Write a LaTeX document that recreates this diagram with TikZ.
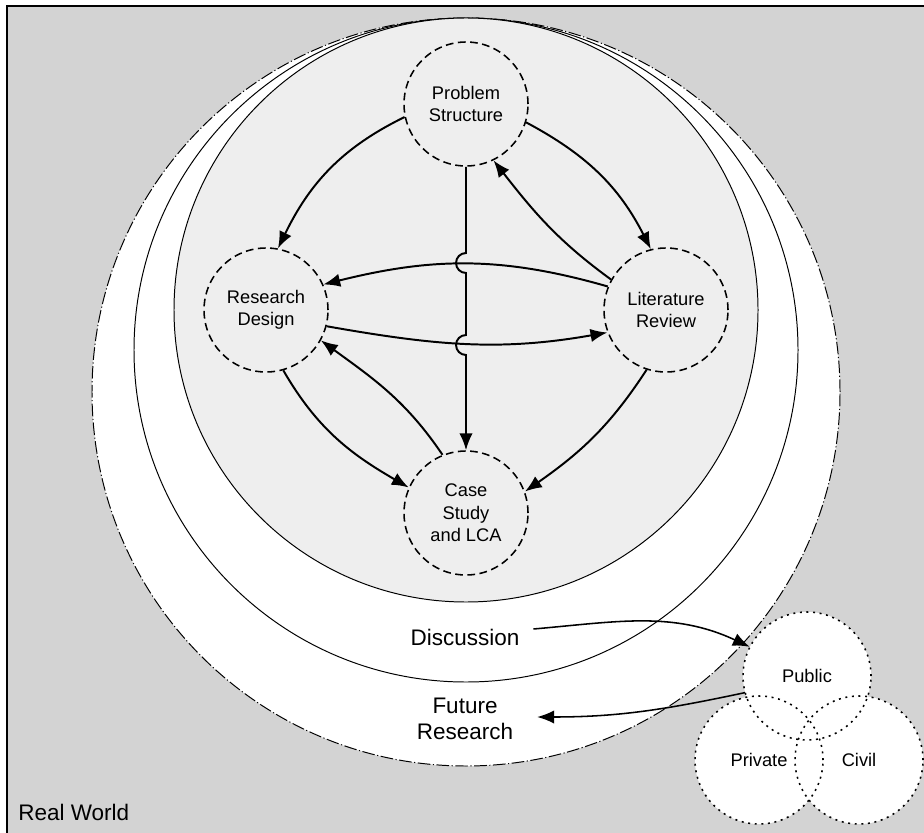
\documentclass[tikz,border=0pt]{standalone}
\usepackage{fontspec}
\setmainfont{Liberation Sans}
\usetikzlibrary{arrows.meta,positioning,calc}

\definecolor{worldgray}{HTML}{D3D3D3}
\definecolor{corefill}{HTML}{EEEEEE}

\begin{document}
\begin{tikzpicture}[
    >={Latex[length=12pt,width=9.5pt]},
    phase/.style={
        circle,
        draw=black,
        line width=1.1pt,
        dash pattern=on 5.5pt off 3.2pt,
        minimum size=3.1cm,
        inner sep=0pt,
        align=center,
        font=\fontsize{13}{16}\selectfont
    },
    venn/.style={
        circle,
        fill=white,
        minimum size=3.2cm,
        inner sep=0pt,
        font=\fontsize{13}{16}\selectfont
    },
    vennline/.style={
        draw=black,
        line width=1.1pt,
        dash pattern=on 1.4pt off 3.3pt
    },
    ring/.style={draw=black, line width=0.7pt},
    tag/.style={align=center, inner sep=2pt, font=\fontsize{16}{18.5}\selectfont},
    arr/.style={->, line width=1.4pt}
]

\useasboundingbox (0,0) rectangle (23.1,20.8);
\clip (0,0) rectangle (23.1,20.8);

% real world frame
\draw[line width=1.2pt, fill=worldgray] (0.175,-1) rectangle (24,20.65);

% nested research rings
\draw[ring, fill=white, dash pattern=on 9pt off 1.8pt on 0.8pt off 1.8pt] (11.65,11.0) circle (9.35);
\draw[ring, fill=white] (11.65,12.05) circle (8.3);
\draw[ring, fill=corefill] (11.65,13.05) circle (7.3);

% phases
\node[phase] (prob) at (11.65,18.2) {Problem\\Structure};
\node[phase] (design) at (6.65,13.05) {Research\\Design};
\node[phase] (lit) at (16.65,13.05) {Literature\\Review};
\node[phase] (case) at (11.65,7.975) {Case\\Study\\and LCA};

\node[tag] (disc) at (11.625,4.875) {Discussion};
\node[tag] (future) at (11.625,2.825) {Future\\Research};
\node[tag, anchor=west] (world) at (0.38,0.5) {Real World};

% stakeholders
\node[venn] (public) at (20.175,3.9) {Public};
\node[venn] (private) at (18.975,1.8) {Private};
\node[venn] (civil) at (21.475,1.8) {Civil};
\foreach \v in {public,private,civil}
    \draw[vennline] (\v.center) circle (1.6);

% flows between phases
\draw[arr] (prob.192) to[out=206,in=64] (design.79);
\draw[arr] (prob.343) to[out=332,in=117] (lit.104);
\draw[arr] (lit.151) to[out=144,in=-52] (prob.296);
\draw[arr] (lit.158) to[out=164,in=14] (design.24);
\draw[arr] (design.345) to[out=-10,in=190] (lit.201);
\draw[arr] (design.286) to[out=-60,in=150] (case.156);
\draw[arr] (lit.252) to[out=237,in=35] (case.20);
\draw[arr] (case.112) to[out=124,in=-36] (design.331);
\draw[arr] (prob.south) -- (11.65,14.475)
    arc[start angle=90,end angle=270,radius=0.25] -- (11.65,12.425)
    arc[start angle=90,end angle=270,radius=0.25] -- (case.north);

% out to the stakeholders and back
\draw[arr, line width=1.1pt] ([xshift=0.275cm,yshift=0.2cm]disc.east) to[out=5,in=155] (public.153);
\draw[arr, line width=1.1pt] (public.195) to[out=192,in=0] ([xshift=0.525cm,yshift=0.05cm]future.east);

\end{tikzpicture}
\end{document}
